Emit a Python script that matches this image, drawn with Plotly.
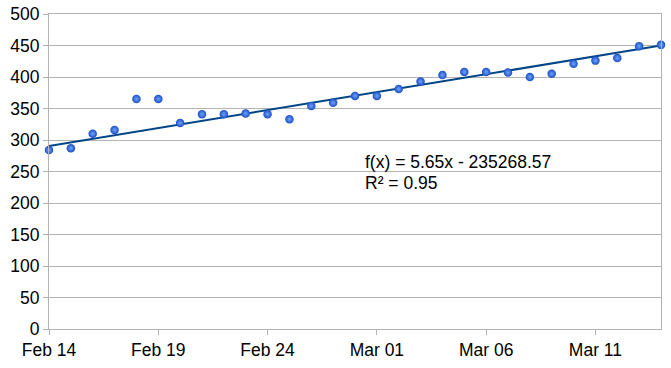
import pandas as pd
import plotly.graph_objects as go

dates = pd.date_range("2014-02-14", "2014-03-14", freq="D")
values = [284, 287, 310, 316, 365, 365, 327, 341, 341, 342, 341, 333, 354, 359,
          370, 370, 381, 393, 403, 408, 408, 407, 400, 405, 421, 426, 430, 449, 451]
trend_dates = ["2014-02-14", "2014-03-14"]
trend_values = [290.5, 450]
y_ticks = list(range(0, 501, 50))
x_tick_labels = ["Feb 14", "Feb 19", "Feb 24", "Mar 01", "Mar 06", "Mar 11"]
x_tick_dates = ["2014-02-14", "2014-02-19", "2014-02-24",
                "2014-03-01", "2014-03-06", "2014-03-11"]
eq_text = "f(x) = 5.65x - 235268.57"
r2_text = "R² = 0.95"

FONT = "Liberation Sans, Arial, sans-serif"
FS = 17.5
fig = go.Figure()
fig.add_trace(go.Scatter(
    x=trend_dates, y=trend_values, mode="lines",
    line=dict(color="#004586", width=2), hoverinfo="skip", cliponaxis=False))
fig.add_trace(go.Scatter(
    x=dates.strftime("%Y-%m-%d"), y=values, mode="markers", cliponaxis=False,
    marker=dict(size=8.5, color="#1a4fc4",
                gradient=dict(type="radial", color="#6fa2ff"),
                line=dict(width=0))))

fig.add_annotation(text=eq_text, xref="paper", yref="paper", x=0.513, y=0.530,
                   xanchor="left", yanchor="middle", showarrow=False,
                   font=dict(family=FONT, size=FS, color="black"))
fig.add_annotation(text=r2_text, xref="paper", yref="paper", x=0.513, y=0.463,
                   xanchor="left", yanchor="middle", showarrow=False,
                   font=dict(family=FONT, size=FS, color="black"))

fig.update_layout(
    width=671, height=368,
    margin=dict(l=49, r=10, t=14, b=39),
    paper_bgcolor="white", plot_bgcolor="white",
    showlegend=False,
    font=dict(family=FONT, size=FS, color="black"),
    xaxis=dict(
        range=["2014-02-14", "2014-03-14 00:00:00.001"], automargin=False,
        tickvals=x_tick_dates, ticktext=x_tick_labels,
        showgrid=False, showline=True, linecolor="#b3b3b3", linewidth=1,
        mirror=True, ticks="outside", ticklen=5, tickcolor="#b3b3b3",
        tickfont=dict(family=FONT, size=FS, color="black"), zeroline=False),
    yaxis=dict(
        range=[0, 500], tickvals=y_ticks, automargin=False,
        showgrid=True, gridcolor="#b3b3b3", gridwidth=1,
        showline=True, linecolor="#b3b3b3", linewidth=1, mirror=True,
        ticks="outside", ticklen=5, tickcolor="#b3b3b3",
        tickfont=dict(family=FONT, size=FS, color="black"), zeroline=False),
)

fig.write_html("out.html", config={"displayModeBar": False},
               post_script="document.body.style.margin='0px';document.body.style.overflow='hidden';")
